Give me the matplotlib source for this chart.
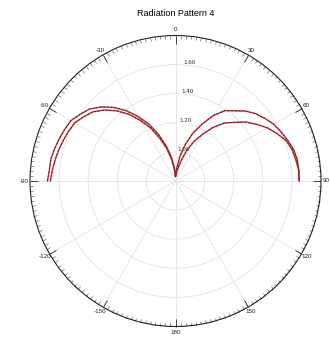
import numpy as np
import matplotlib
matplotlib.use('Agg')
import matplotlib.pyplot as plt

#-------------------------------------------------------------------------------
# values
#-------------------------------------------------------------------------------

# angles in degrees, 0 at top, positive clockwise
angles = [-90, -85, -80, -75, -70, -65, -60, -55, -50, -45, -40, -35, -30, -25,
          -20, -15, -10, -5, 0, 5, 10, 15, 20, 25, 30, 35, 40, 45, 50, 55, 60,
          65, 70, 75, 80, 85, 90]

# pattern 1 (symmetric lobes)
pattern1 = [1.66, 1.65, 1.64, 1.63, 1.62, 1.61, 1.60, 1.57, 1.54, 1.49, 1.43,
            1.36, 1.28, 1.20, 1.11, 1.03, 0.95, 0.88, 0.83, 0.88, 0.97, 1.06,
            1.15, 1.23, 1.32, 1.39, 1.43, 1.48, 1.52, 1.55, 1.58, 1.60, 1.62,
            1.64, 1.65, 1.65, 1.65]

# pattern 2 (null pushed to the right)
pattern2 = [1.68, 1.67, 1.67, 1.66, 1.65, 1.64, 1.63, 1.60, 1.57, 1.52, 1.46,
            1.39, 1.31, 1.23, 1.14, 1.05, 0.97, 0.89, 0.83, 0.84, 0.88, 0.94,
            1.02, 1.10, 1.17, 1.25, 1.32, 1.37, 1.43, 1.48, 1.53, 1.57, 1.61,
            1.63, 1.64, 1.65, 1.65]

theta_ticks = [0, 30, 60, 90, 120, 150, 180, 210, 240, 270, 300, 330]
theta_labels = ['0', '30', '60', '90', '120', '150', '180', '-150', '-120',
                '-90', '-60', '-30']
r_ticks = [1.0, 1.2, 1.4, 1.6]
r_labels = ['1.00', '1.20', '1.40', '1.60']

#-------------------------------------------------------------------------------
# plot
#-------------------------------------------------------------------------------

plt.rcParams['font.family'] = ['Liberation Sans', 'DejaVu Sans']

fig = plt.figure(figsize=(3.3, 3.44), dpi=100)
ax = fig.add_axes([30/330, 16/344, 291/330, 294/344], projection='polar')

ax.set_theta_zero_location('N')
ax.set_theta_direction(-1)
ax.set_rlim(0.8, 1.8)

th = np.deg2rad(angles)
for r in (pattern1, pattern2):
    ax.plot(th, r, color='#e0202a', lw=1.1, alpha=0.85)
    ax.plot(th, r, color='#333333', lw=0.6, ls=(0, (3, 1.5)))

#grid and ticks (theta ticks live on the outer spine = "top")
ax.set_xticks(np.deg2rad(theta_ticks))
ax.set_xticklabels(theta_labels, fontsize=4.5)
ax.set_xticks(np.deg2rad(np.arange(0, 360, 2)), minor=True)
ax.tick_params(axis='x', which='both', top=True, bottom=False)
ax.tick_params(axis='x', which='major', direction='in', length=6, width=0.6,
               pad=-3, colors='#222222')
ax.tick_params(axis='x', which='minor', direction='in', length=2.5,
               width=0.4, colors='#444444')
ax.set_yticks(r_ticks)
ax.set_yticklabels(r_labels, fontsize=4.5, color='#333333')
ax.set_rlabel_position(4)
ax.grid(True, color='#e4e4e4', lw=0.6)
ax.spines['polar'].set_color('#222222')
ax.spines['polar'].set_linewidth(0.8)

fig.text(176/330, 1 - 14/344, 'Radiation Pattern 4', ha='center',
         va='center', fontsize=6.5)

plt.savefig('out.png', dpi=100)
